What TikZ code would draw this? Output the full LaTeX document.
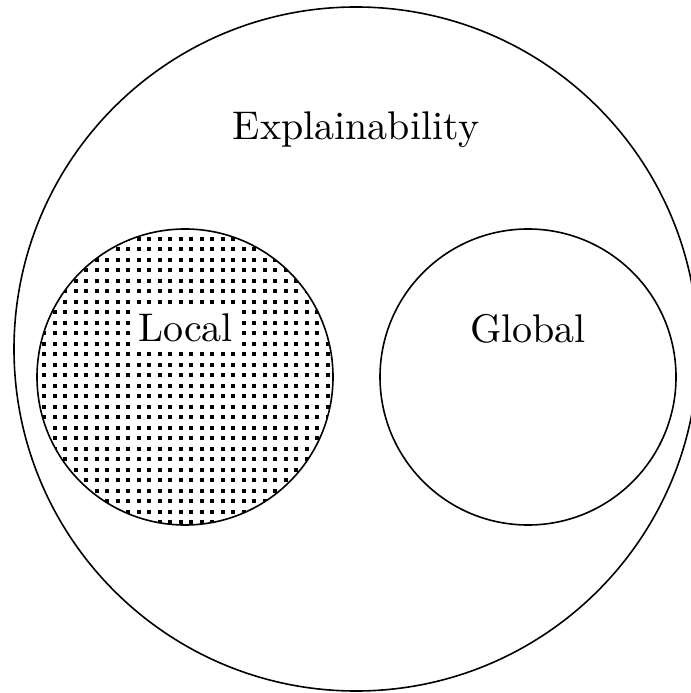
\documentclass[tikz,border=0pt]{standalone}
\usepackage{tikz}
\begin{document}
% One unit is a quarter point; y grows downwards.
\begin{tikzpicture}[x=0.25pt,y=-0.25pt,
  ring/.style={draw=black,line width=0.4pt},
  label/.style={font=\normalsize,inner sep=0pt,anchor=base},
  dotcell/.style={fill=black}]
  \useasboundingbox (0,0) rectangle (690,693);

  % Outer set
  \draw[ring] (356,349) circle [radius=342];

  % Local subset, filled with a square dot grid
  \begin{scope}
    \clip (185,377) circle [radius=148];
    \foreach \i in {-3,...,26}{
      \foreach \j in {-17,...,12}{
        \fill[dotcell] ({65+10.5*\i-2},{406.7+10.5*\j-2}) rectangle ++(4,4);
      }
    }
  \end{scope}
  \draw[ring] (185,377) circle [radius=148];

  % Global subset
  \draw[ring] (528,377) circle [radius=148];

  % Labels
  \node[label] (expl) at (356,140) {Explainability};
  \node[label,fill=white,inner xsep=0.4pt,inner ysep=1.2pt] (local) at (185.5,342) {Local};
  \node[label] (global) at (528,342.5) {Global};
\end{tikzpicture}
\end{document}
